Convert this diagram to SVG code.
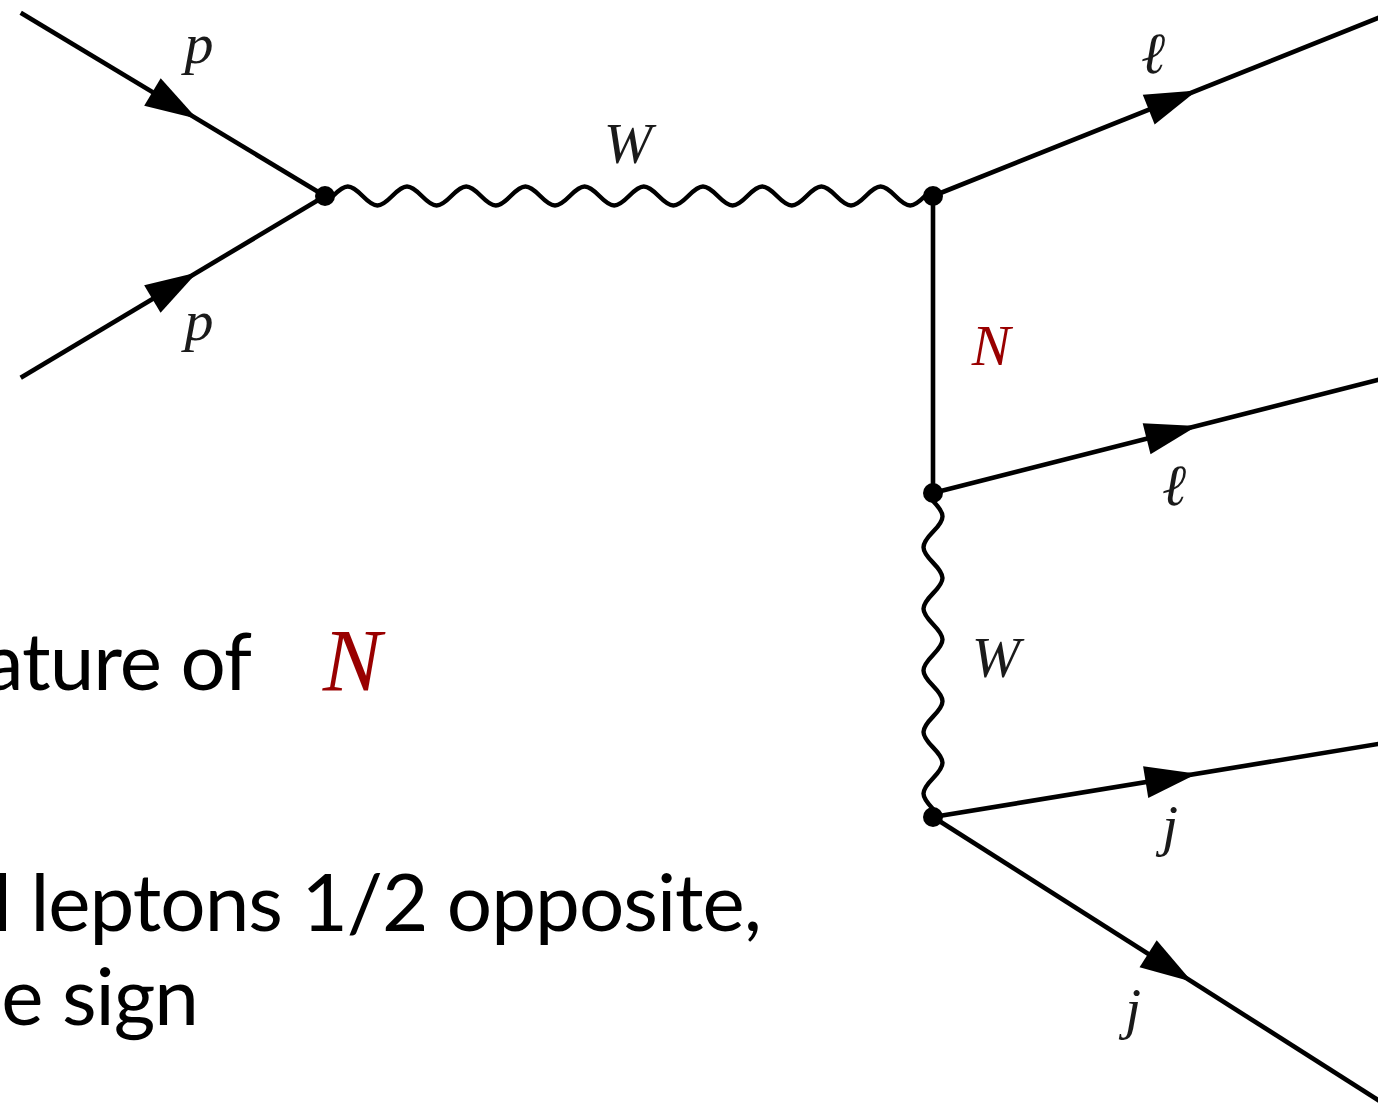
<svg xmlns="http://www.w3.org/2000/svg" width="1378" height="1108" viewBox="0 0 1378 1108">
<style>
.ln{stroke:#000;stroke-width:4.6;fill:none}
.wv{stroke:#000;stroke-width:4.4;fill:none;stroke-linejoin:round}
.vx{fill:#000}
.lab{font-family:"Liberation Serif","DejaVu Serif",serif;font-style:italic;font-size:58px;fill:#1a1a1a;text-anchor:middle}
.red{fill:#990000}
.big{font-family:Lato,"Open Sans","Liberation Sans",sans-serif;font-size:80px;fill:#000;letter-spacing:-1px}
</style>
<defs>
<path id="arr" d="M0,0 L-52,-16 L-52,16 Z" fill="#000"/>
</defs>
<rect width="1378" height="1108" fill="#fff"/>
<g id="connectors">
<line class="ln" x1="20.7" y1="12.7" x2="325" y2="196"/>
<line class="ln" x1="20.7" y1="377.7" x2="325" y2="196"/>
<path class="wv" d="M325,196 L333,196 c12.56,-12.67 17.04,-12.67 29.6,0 c12.56,12.67 17.04,12.67 29.6,0 c12.56,-12.67 17.04,-12.67 29.6,0 c12.56,12.67 17.04,12.67 29.6,0 c12.56,-12.67 17.04,-12.67 29.6,0 c12.56,12.67 17.04,12.67 29.6,0 c12.56,-12.67 17.04,-12.67 29.6,0 c12.56,12.67 17.04,12.67 29.6,0 c12.56,-12.67 17.04,-12.67 29.6,0 c12.56,12.67 17.04,12.67 29.6,0 c12.56,-12.67 17.04,-12.67 29.6,0 c12.56,12.67 17.04,12.67 29.6,0 c12.56,-12.67 17.04,-12.67 29.6,0 c12.56,12.67 17.04,12.67 29.6,0 c12.56,-12.67 17.04,-12.67 29.6,0 c12.56,12.67 17.04,12.67 29.6,0 c12.56,-12.67 17.04,-12.67 29.6,0 c12.56,12.67 17.04,12.67 29.6,0 c12.56,-12.67 17.04,-12.67 29.6,0 c12.56,12.67 17.04,12.67 29.6,0 L933,196"/>
<line class="ln" x1="933" y1="196" x2="933" y2="493"/>
<path class="wv" d="M933,493 L933,501 c12.67,13.07 12.67,17.73 0,30.8 c-12.67,13.07 -12.67,17.73 0,30.8 c12.67,13.07 12.67,17.73 0,30.8 c-12.67,13.07 -12.67,17.73 0,30.8 c12.67,13.07 12.67,17.73 0,30.8 c-12.67,13.07 -12.67,17.73 0,30.8 c12.67,13.07 12.67,17.73 0,30.8 c-12.67,13.07 -12.67,17.73 0,30.8 c12.67,13.07 12.67,17.73 0,30.8 c-12.67,13.07 -12.67,17.73 0,30.8 L933,817"/>
<line class="ln" x1="933" y1="196" x2="1400" y2="9.2"/>
<line class="ln" x1="933" y1="493" x2="1400" y2="374.4"/>
<line class="ln" x1="933" y1="817" x2="1400" y2="740.4"/>
<line class="ln" x1="933" y1="817" x2="1400" y2="1114"/>
<use href="#arr" transform="translate(197,118.8) rotate(31.06)"/>
<use href="#arr" transform="translate(197,272.4) rotate(-30.85)"/>
<use href="#arr" transform="translate(1197,90.4) rotate(-21.8)"/>
<use href="#arr" transform="translate(1197,426) rotate(-14.25)"/>
<use href="#arr" transform="translate(1197,773.7) rotate(-9.32)"/>
<use href="#arr" transform="translate(1192,981.7) rotate(32.45)"/>
</g>
<g id="v1"><circle class="vx" cx="325" cy="196" r="10"/></g>
<g id="v2"><circle class="vx" cx="933" cy="196" r="10"/></g>
<g id="v3"><circle class="vx" cx="933" cy="493" r="10"/></g>
<g id="v4"><circle class="vx" cx="933" cy="817" r="10"/></g>
<g id="labels">
<text class="lab" x="199" y="63">p</text>
<text class="lab" x="199" y="340">p</text>
<text class="lab" x="628" y="163">W</text>
<text class="lab" x="1153" y="73">ℓ</text>
<text class="lab red" x="991" y="365">N</text>
<text class="lab" x="1174" y="505">ℓ</text>
<text class="lab" x="996" y="677">W</text>
<text class="lab" x="1170" y="845">j</text>
<text class="lab" x="1133" y="1028">j</text>
</g>
<g id="caption">
<text class="big" x="251" y="690" text-anchor="end">ature of</text>
<text class="lab red" x="352" y="690" style="font-size:88px">N</text>
<text class="big" x="761" y="931" text-anchor="end">l leptons 1/2 opposite,</text>
<text class="big" x="198" y="1025" text-anchor="end">e sign</text>
</g>
</svg>
